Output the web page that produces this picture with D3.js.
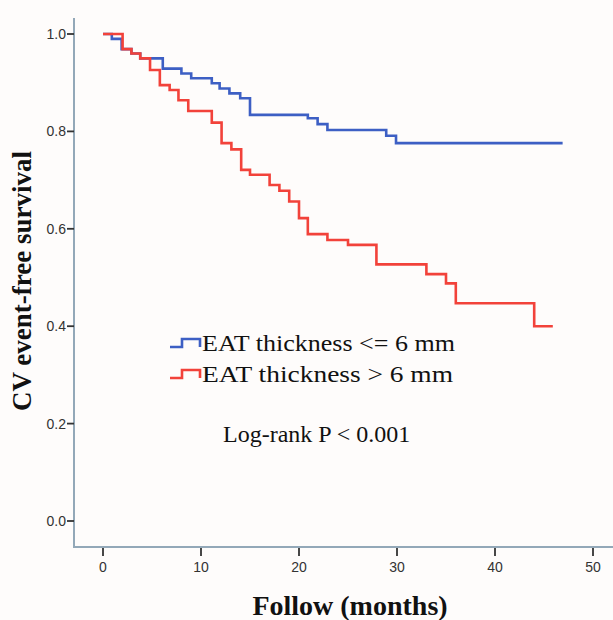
<!DOCTYPE html>
<html>
<head>
<meta charset="utf-8">
<script src="https://cdn.jsdelivr.net/npm/d3@7"></script>
<style>
  body { margin: 0; background: #fefcfb; }
  svg { display: block; }
</style>
</head>
<body>
<svg id="km" width="613" height="620"></svg>
<script>
// survival steps (time in months, survival at and after that time)
let blueTimes = [0, 0.9, 1.9, 2.9, 3.8, 6.1, 8.0, 9.0, 11.1, 11.9, 12.9, 14.0, 15.0, 20.9, 21.9, 22.9, 28.9, 29.9];
let blueSurv  = [1.0, 0.99, 0.969, 0.960, 0.950, 0.929, 0.919, 0.909, 0.899, 0.888, 0.878, 0.868, 0.834, 0.827, 0.815, 0.803, 0.791, 0.776];
let blueEnd = 46.9;

let redTimes = [0, 2.0, 2.9, 3.8, 4.8, 5.8, 6.8, 7.7, 8.7, 11.1, 12.1, 13.1, 14.1, 15.0, 17.0, 18.0, 19.0, 20.0, 20.9, 22.9, 25.0, 27.9, 33.0, 35.0, 36.0, 44.0];
let redSurv  = [1.0, 0.969, 0.960, 0.950, 0.926, 0.895, 0.885, 0.864, 0.842, 0.818, 0.776, 0.763, 0.721, 0.711, 0.690, 0.678, 0.656, 0.622, 0.589, 0.577, 0.567, 0.527, 0.507, 0.488, 0.447, 0.400];
let redEnd = 45.9;

let xTicks = [0, 10, 20, 30, 40, 50];
let yTicks = [0.0, 0.2, 0.4, 0.6, 0.8, 1.0];
let legendLabels = ["EAT thickness <= 6 mm", "EAT thickness > 6 mm"];
let legendWidths = [253, 251];
let colores = ["#3d5fc4", "#f2423a"];

let svg = d3.select("#km");

let scx = d3.scaleLinear([0, 50], [103, 593]);
let scy = d3.scaleLinear([0, 1], [521, 34]);

function steps(times, surv, end) {
    let pts = times.map((t, i) => ({t: t, s: surv[i]}));
    pts.push({t: end, s: surv[surv.length - 1]});
    return pts;
}
let series = [steps(blueTimes, blueSurv, blueEnd), steps(redTimes, redSurv, redEnd)];

// frame lines
svg.append("line")
    .attr("x1", 74).attr("x2", 74)
    .attr("y1", 18).attr("y2", 548)
    .attr("stroke", "#93a8b8").attr("stroke-width", 2);
svg.append("line")
    .attr("x1", 73).attr("x2", 613)
    .attr("y1", 547).attr("y2", 547)
    .attr("stroke", "#93a8b8").attr("stroke-width", 2);

// y ticks
let gy = svg.append("g");
gy.selectAll("line")
    .data(yTicks)
    .join("line")
    .attr("x1", 67).attr("x2", 74)
    .attr("y1", d => scy(d)).attr("y2", d => scy(d))
    .attr("stroke", "#333").attr("stroke-width", 1.8);
gy.selectAll("text")
    .data(yTicks)
    .join("text")
    .attr("x", 66)
    .attr("y", d => scy(d) + 5)
    .attr("text-anchor", "end")
    .attr("font-family", "Liberation Sans, Arial, sans-serif")
    .attr("font-size", 14)
    .attr("fill", "#333")
    .text(d => d.toFixed(1));

// x ticks
let gx = svg.append("g");
gx.selectAll("line")
    .data(xTicks)
    .join("line")
    .attr("x1", d => scx(d)).attr("x2", d => scx(d))
    .attr("y1", 548).attr("y2", 556)
    .attr("stroke", "#333").attr("stroke-width", 1.8);
gx.selectAll("text")
    .data(xTicks)
    .join("text")
    .attr("x", d => scx(d))
    .attr("y", 572)
    .attr("text-anchor", "middle")
    .attr("font-family", "Liberation Sans, Arial, sans-serif")
    .attr("font-size", 14)
    .attr("fill", "#333")
    .text(d => d);

// curves
let line = d3.line()
    .x(d => scx(d.t))
    .y(d => scy(d.s))
    .curve(d3.curveStepAfter);

svg.selectAll(".curva")
    .data(series)
    .join("path")
    .attr("class", "curva")
    .attr("fill", "none")
    .attr("stroke", (d, i) => colores[i])
    .attr("stroke-width", 2.6)
    .attr("d", line);

// axis titles
svg.append("text")
    .attr("transform", "translate(31,281) rotate(-90)")
    .attr("text-anchor", "middle")
    .attr("font-family", "Liberation Serif, Times New Roman, serif")
    .attr("font-weight", "bold")
    .attr("font-size", 27)
    .attr("fill", "#111")
    .text("CV event-free survival");

svg.append("text")
    .attr("x", 350)
    .attr("y", 615)
    .attr("text-anchor", "middle")
    .attr("font-family", "Liberation Serif, Times New Roman, serif")
    .attr("font-weight", "bold")
    .attr("font-size", 28)
    .attr("fill", "#111")
    .text("Follow (months)");

// legend
let lx = 170, ly = 351, lstep = 31;
let leg = svg.append("g");
leg.selectAll("path")
    .data(legendLabels)
    .join("path")
    .attr("fill", "none")
    .attr("stroke", (d, i) => colores[i])
    .attr("stroke-width", 2.6)
    .attr("d", (d, i) => {
        let y0 = ly - 4 + i * lstep;
        return `M${lx},${y0}H${lx + 12}V${y0 - 8}H${lx + 30}V${y0}`;
    });
leg.selectAll("text")
    .data(legendLabels)
    .join("text")
    .attr("x", lx + 32)
    .attr("y", (d, i) => ly + i * lstep)
    .attr("font-family", "Liberation Serif, Times New Roman, serif")
    .attr("font-size", 24)
    .attr("textLength", (d, i) => legendWidths[i])
    .attr("lengthAdjust", "spacingAndGlyphs")
    .attr("fill", "#111")
    .text(d => d);

svg.append("text")
    .attr("x", 223)
    .attr("y", 442)
    .attr("font-family", "Liberation Serif, Times New Roman, serif")
    .attr("font-size", 24)
    .attr("fill", "#111")
    .text("Log-rank P < 0.001");
</script>
</body>
</html>
